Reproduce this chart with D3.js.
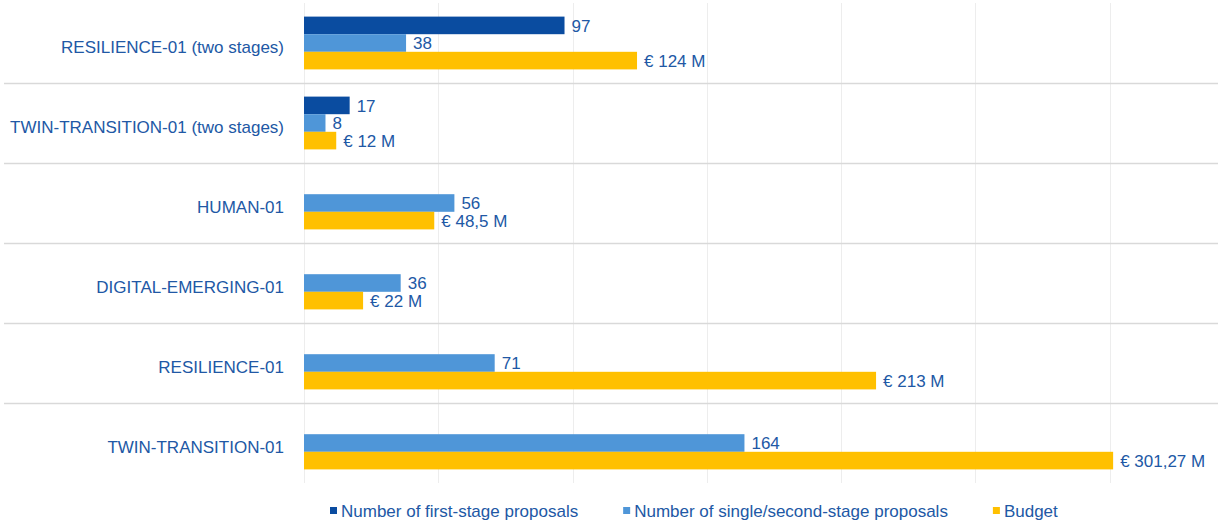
<!DOCTYPE html>
<html>
<head>
<meta charset="utf-8">
<script src="https://cdn.jsdelivr.net/npm/d3@7"></script>
<style>
  body { margin: 0; background: #fff; }
  text { font-family: "Liberation Sans", Arial, sans-serif; fill: #2158a5; }
</style>
</head>
<body>
<svg class="chart" width="1218" height="523"></svg>
<script>
// categories, top to bottom
let categories = [
	"RESILIENCE-01 (two stages)",
	"TWIN-TRANSITION-01 (two stages)",
	"HUMAN-01",
	"DIGITAL-EMERGING-01",
	"RESILIENCE-01",
	"TWIN-TRANSITION-01"
];
let firstStage = [97, 17, null, null, null, null];
let singleStage = [38, 8, 56, 36, 71, 164];
let budget = [124, 12, 48.5, 22, 213, 301.27];   // € M

let seriesNames = [
	"Number of first-stage proposals",
	"Number of single/second-stage proposals",
	"Budget"
];
let seriesColors = ["#0a4ca0", "#4f96d8", "#ffc000"];
let gridTicks = [0, 50, 100, 150, 200, 250, 300];

function euro(v) {
	return "€ " + String(v).replace(".", ",") + " M";
}

var svg = d3.select(".chart");
var width = +svg.attr('width');
var height = +svg.attr('height');

let plotLeft = 304;
let plotTop = 3;
let plotBottom = 483;

var xScale = d3.scaleLinear()
	.domain([0, 350])
	.range([plotLeft, plotLeft + 940]);

var yScale = d3.scaleBand()
	.domain(categories)
	.range([plotTop, plotBottom])
	.paddingInner(0.34)
	.paddingOuter(0.17);

var subScale = d3.scaleBand()
	.domain([0, 1, 2])
	.range([0, yScale.bandwidth()]);

// vertical gridlines
svg.append('g')
   .selectAll('line')
   .data(gridTicks)
   .join('line')
   .attr('x1', d => Math.round(xScale(d)) + 0.5)
   .attr('x2', d => Math.round(xScale(d)) + 0.5)
   .attr('y1', plotTop)
   .attr('y2', plotBottom)
   .attr('stroke', '#ededed')
   .attr('stroke-width', 1);

// separators between categories
let step = yScale.step();
svg.append('g')
   .selectAll('line')
   .data(categories.slice(1))
   .join('line')
   .attr('x1', 4)
   .attr('x2', width)
   .attr('y1', d => Math.round(yScale(d) - step * 0.17) + 0.5)
   .attr('y2', d => Math.round(yScale(d) - step * 0.17) + 0.5)
   .attr('stroke', '#d9d9d9')
   .attr('stroke-width', 1.5);

// bars
let series = [firstStage, singleStage, budget];
let labelFmt = [d => d, d => d, euro];

for (let s = 0; s < series.length; s++) {
	let rows = categories.map((c, i) => ({cat: c, value: series[s][i]}))
	                     .filter(d => d.value != null);
	let g = svg.append('g');
	g.selectAll('rect')
	 .data(rows)
	 .join('rect')
	 .attr('x', xScale(0))
	 .attr('y', d => yScale(d.cat) + subScale(s))
	 .attr('width', d => xScale(d.value) - xScale(0))
	 .attr('height', subScale.bandwidth())
	 .attr('fill', seriesColors[s]);
	g.selectAll('text')
	 .data(rows)
	 .join('text')
	 .attr('x', d => xScale(d.value) + 7)
	 .attr('y', d => yScale(d.cat) + subScale(s) + subScale.bandwidth() / 2)
	 .attr('dy', '0.36em')
	 .style('font-size', '17px')
	 .text(d => labelFmt[s](d.value));
}

// category labels
svg.append('g')
   .selectAll('text')
   .data(categories)
   .join('text')
   .attr('x', 284)
   .attr('y', d => yScale(d) + yScale.bandwidth() / 2 + 4)
   .attr('dy', '0.36em')
   .attr('text-anchor', 'end')
   .style('font-size', '17px')
   .text(d => d);

// legend
let legend = svg.append('g');
let lx = 330;
let ly = 511;
for (let i = 0; i < seriesNames.length; i++) {
	legend.append('rect')
	      .attr('x', lx)
	      .attr('y', ly - 4)
	      .attr('width', 7)
	      .attr('height', 7)
	      .attr('fill', seriesColors[i]);
	let t = legend.append('text')
	      .attr('x', lx + 11)
	      .attr('y', ly)
	      .attr('dy', '0.36em')
	      .style('font-size', '17px')
	      .text(seriesNames[i]);
	lx += 11 + t.node().getComputedTextLength() + 45;
}
</script>
</body>
</html>
